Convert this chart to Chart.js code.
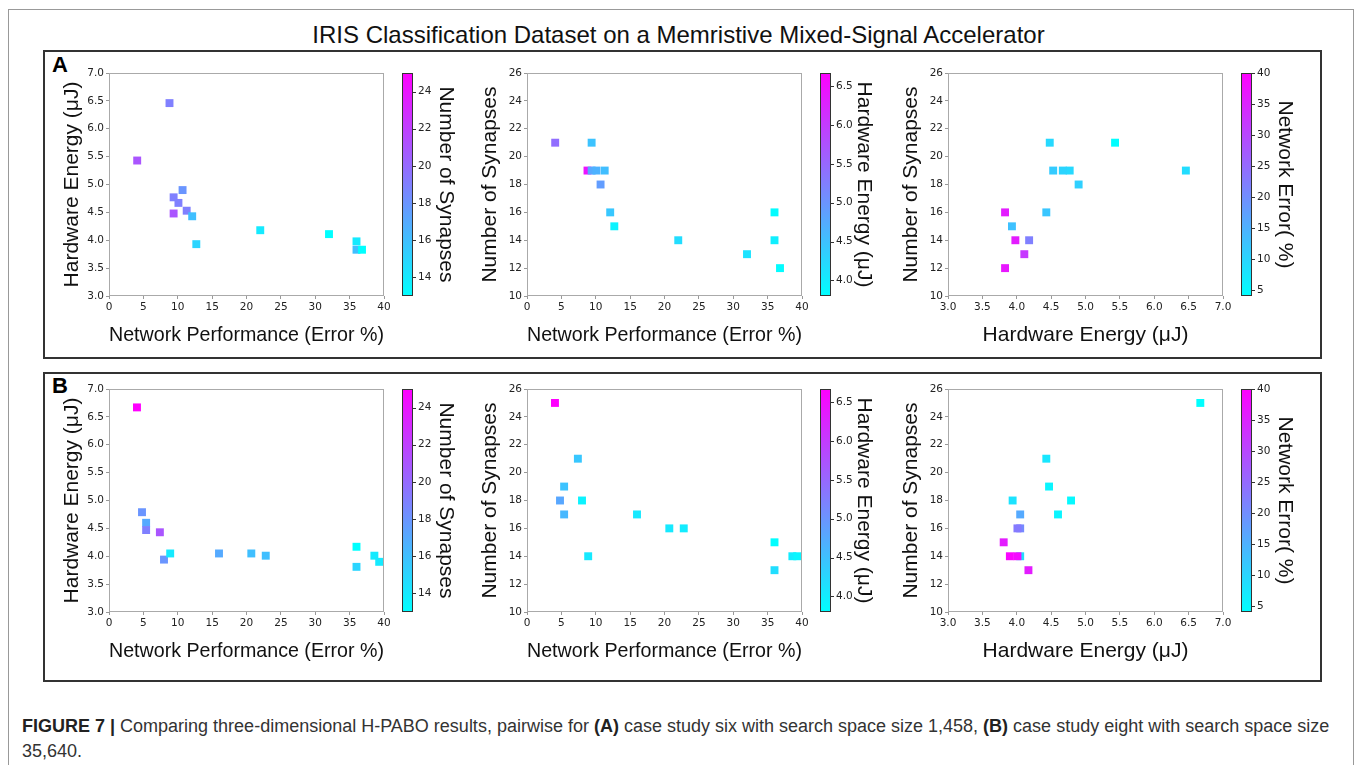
<!DOCTYPE html>
<html>
<head>
<meta charset="utf-8">
<script src="https://cdn.jsdelivr.net/npm/chart.js@4.4.1/dist/chart.umd.min.js"></script>
<style>
  body { margin: 0; background: #fff; width: 1357px; height: 765px; overflow: hidden; position: relative; font-family: "Liberation Sans", Arial, sans-serif; }
  .outer { position: absolute; left: 8px; top: 9px; width: 1344px; height: 800px; border: 1px solid #999; border-bottom: none; }
  .panel { position: absolute; left: 43px; width: 1275px; border: 2px solid #333; }
  .letter { position: absolute; left: 52px; font-weight: bold; font-size: 22px; color: #000; }
  .title { position: absolute; left: 0; width: 1357px; top: 21px; text-align: center; font-size: 24px; color: #111; }
  canvas { position: absolute; }
  .caption { position: absolute; left: 22px; top: 714px; font-size: 18px; line-height: 25px; color: #333; white-space: nowrap; }
  .caption b { color: #222; }
</style>
</head>
<body>
<div class="outer"></div>
<div class="title">IRIS Classification Dataset on a Memristive Mixed-Signal Accelerator</div>
<div class="panel" style="top:50px;height:305px"></div>
<div class="panel" style="top:372px;height:306px"></div>
<div class="letter" style="top:52px">A</div>
<div class="letter" style="top:373px">B</div>

<canvas id="a1" width="425" height="290" style="left:49px;top:61px"></canvas>
<canvas id="a2" width="425" height="290" style="left:467px;top:61px"></canvas>
<canvas id="a3" width="425" height="290" style="left:888px;top:61px"></canvas>
<canvas id="b1" width="425" height="290" style="left:49px;top:377px"></canvas>
<canvas id="b2" width="425" height="290" style="left:467px;top:377px"></canvas>
<canvas id="b3" width="425" height="290" style="left:888px;top:377px"></canvas>

<div class="caption"><b>FIGURE 7 |</b> Comparing three-dimensional H-PABO results, pairwise for <b>(A)</b> case study six with search space size 1,458, <b>(B)</b> case study eight with search space size<br>35,640.</div>

<script>
// caso A (search space 1,458)
const errA = [4.1, 8.8, 9.4, 9.4, 10.1, 10.7, 11.3, 12.1, 12.7, 22.0, 32.0, 36.0, 36.0, 36.8];
const energyA = [5.43, 6.46, 4.48, 4.77, 4.67, 4.90, 4.53, 4.43, 3.93, 4.18, 4.11, 3.98, 3.83, 3.83];
const synA = [21, 19, 21, 19, 19, 18, 19, 16, 15, 14, 13, 14, 16, 12];

// caso B (search space 35,640)
const errB = [4.07, 4.8, 5.4, 5.4, 7.4, 8.0, 8.9, 16.0, 20.7, 22.8, 36.0, 36.0, 38.6, 39.3];
const energyB = [6.67, 4.79, 4.60, 4.47, 4.43, 3.94, 4.05, 4.05, 4.05, 4.01, 4.17, 3.81, 4.01, 3.90];
const synB = [25, 18, 17, 19, 21, 18, 14, 17, 16, 16, 13, 15, 14, 14];

// ticks dos eixos
const errTicks = [0, 5, 10, 15, 20, 25, 30, 35, 40];
const energyTicks = [3.0, 3.5, 4.0, 4.5, 5.0, 5.5, 6.0, 6.5, 7.0];
const synTicks = [10, 12, 14, 16, 18, 20, 22, 24, 26];

// barras de cor
const synBarTicks = [14, 16, 18, 20, 22, 24];
const synBarRange = [13, 25];
const energyBarTicks = [4.0, 4.5, 5.0, 5.5, 6.0, 6.5];
const energyBarRange = [3.8, 6.67];
const errBarTicks = [5, 10, 15, 20, 25, 30, 35, 40];
const errBarRange = [4, 40];

const LBL_ERR = 'Network Performance (Error %)';
const LBL_ENERGY = 'Hardware Energy (\u03bcJ)';
const LBL_SYN = 'Number of Synapses';
const LBL_NETERR = 'Network Error( %)';

// colormap "cool" do matplotlib: ciano -> magenta
function cool(v, range) {
  let t = (v - range[0]) / (range[1] - range[0]);
  t = Math.max(0, Math.min(1, t));
  return `rgb(${Math.round(255 * t)},${Math.round(255 * (1 - t))},255)`;
}

const frameAndBar = {
  id: 'frameAndBar',
  afterDraw(chart) {
    const { ctx, chartArea: a } = chart;
    ctx.save();
    ctx.strokeStyle = '#aaa';
    ctx.lineWidth = 1;
    ctx.strokeRect(a.left + 0.5, a.top + 0.5, a.right - a.left - 1, a.bottom - a.top - 1);

    // barra de cor
    const cb = chart.scales.cb;
    const x0 = cb.left + 18, w = 11;
    const g = ctx.createLinearGradient(0, a.bottom, 0, a.top);
    g.addColorStop(0, 'rgb(0,255,255)');
    g.addColorStop(1, 'rgb(255,0,255)');
    ctx.fillStyle = g;
    ctx.fillRect(x0, a.top, w, a.bottom - a.top);
    ctx.strokeStyle = '#333';
    ctx.strokeRect(x0 + 0.5, a.top + 0.5, w - 1, a.bottom - a.top - 1);
    cb.ticks.forEach(t => {
      const y = Math.round(cb.getPixelForValue(t.value)) + 0.5;
      ctx.beginPath();
      ctx.moveTo(x0 + w, y);
      ctx.lineTo(x0 + w + 3, y);
      ctx.stroke();
    });
    ctx.restore();
  }
};

const tickFont = { family: '"DejaVu Sans", sans-serif', size: 10.5 };
const titleFont = { family: '"Liberation Sans", Arial, sans-serif', size: 21 };

function axis(range, ticks, decimals, label, extra) {
  return Object.assign({
    type: 'linear',
    min: range[0],
    max: range[1],
    afterBuildTicks: s => { s.ticks = ticks.map(v => ({ value: v })); },
    ticks: {
      font: tickFont,
      color: '#222',
      padding: 2,
      maxRotation: 0,
      autoSkip: false,
      callback: v => v.toFixed(decimals)
    },
    grid: { display: true, drawOnChartArea: false, drawTicks: true, tickLength: 3, color: '#999' },
    border: { display: false },
    title: { display: true, text: label, font: titleFont, color: '#111' }
  }, extra);
}

function makeChart(id, xs, ys, cs, cfg) {
  const pts = xs.map((x, i) => ({ x: x, y: ys[i] }));
  const colors = cs.map(c => cool(c, cfg.cbRange));
  return new Chart(document.getElementById(id), {
    type: 'scatter',
    data: {
      datasets: [{
        data: pts,
        pointStyle: 'rect',
        pointRadius: 5.6,
        pointHoverRadius: 5.6,
        borderWidth: 0,
        backgroundColor: colors,
        pointBackgroundColor: colors
      }]
    },
    options: {
      responsive: false,
      animation: false,
      events: [],
      layout: { padding: { top: 12, left: 0, right: 0, bottom: 0 } },
      plugins: { legend: { display: false }, tooltip: { enabled: false } },
      scales: {
        x: axis(cfg.xRange, cfg.xTicks, cfg.xDec, cfg.xLabel, {
          position: 'bottom',
          afterFit: s => { s.height = 55; }
        }),
        y: axis(cfg.yRange, cfg.yTicks, cfg.yDec, cfg.yLabel, {
          position: 'left',
          afterFit: s => { s.width = 60; }
        }),
        cb: {
          type: 'linear',
          position: 'right',
          axis: 'y',
          min: cfg.cbRange[0],
          max: cfg.cbRange[1],
          afterBuildTicks: s => { s.ticks = cfg.cbTicks.map(v => ({ value: v })); },
          afterFit: s => { s.width = 90; },
          ticks: { font: tickFont, color: '#222', padding: 2, callback: v => v.toFixed(cfg.cbDec) },
          // tickLength empurra os rótulos para a direita da barra de cor
          grid: { display: false, drawTicks: true, tickLength: 32 },
          border: { display: false },
          title: { display: true, text: cfg.cbLabel, font: titleFont, color: '#111', padding: { top: 16, bottom: 0 } }
        }
      }
    },
    plugins: [frameAndBar]
  });
}

function fixTitlePadding(chart) {
  chart.options.scales.y.title.padding = { top: 11, bottom: 0 };
  chart.options.scales.x.title.padding = { top: 0, bottom: 3 };
  chart.update();
}

const colCfg = {
  c1: { xRange: [0, 40], xTicks: errTicks, xDec: 0, xLabel: LBL_ERR,
        yRange: [3, 7], yTicks: energyTicks, yDec: 1, yLabel: LBL_ENERGY,
        cbRange: synBarRange, cbTicks: synBarTicks, cbDec: 0, cbLabel: LBL_SYN },
  c2: { xRange: [0, 40], xTicks: errTicks, xDec: 0, xLabel: LBL_ERR,
        yRange: [10, 26], yTicks: synTicks, yDec: 0, yLabel: LBL_SYN,
        cbRange: energyBarRange, cbTicks: energyBarTicks, cbDec: 1, cbLabel: LBL_ENERGY },
  c3: { xRange: [3, 7], xTicks: energyTicks, xDec: 1, xLabel: LBL_ENERGY,
        yRange: [10, 26], yTicks: synTicks, yDec: 0, yLabel: LBL_SYN,
        cbRange: errBarRange, cbTicks: errBarTicks, cbDec: 0, cbLabel: LBL_NETERR }
};

const charts = [
  makeChart('a1', errA, energyA, synA, colCfg.c1),
  makeChart('a2', errA, synA, energyA, colCfg.c2),
  makeChart('a3', energyA, synA, errA, colCfg.c3),
  makeChart('b1', errB, energyB, synB, colCfg.c1),
  makeChart('b2', errB, synB, energyB, colCfg.c2),
  makeChart('b3', energyB, synB, errB, colCfg.c3)
];
charts.forEach(fixTitlePadding);
</script>
</body>
</html>
